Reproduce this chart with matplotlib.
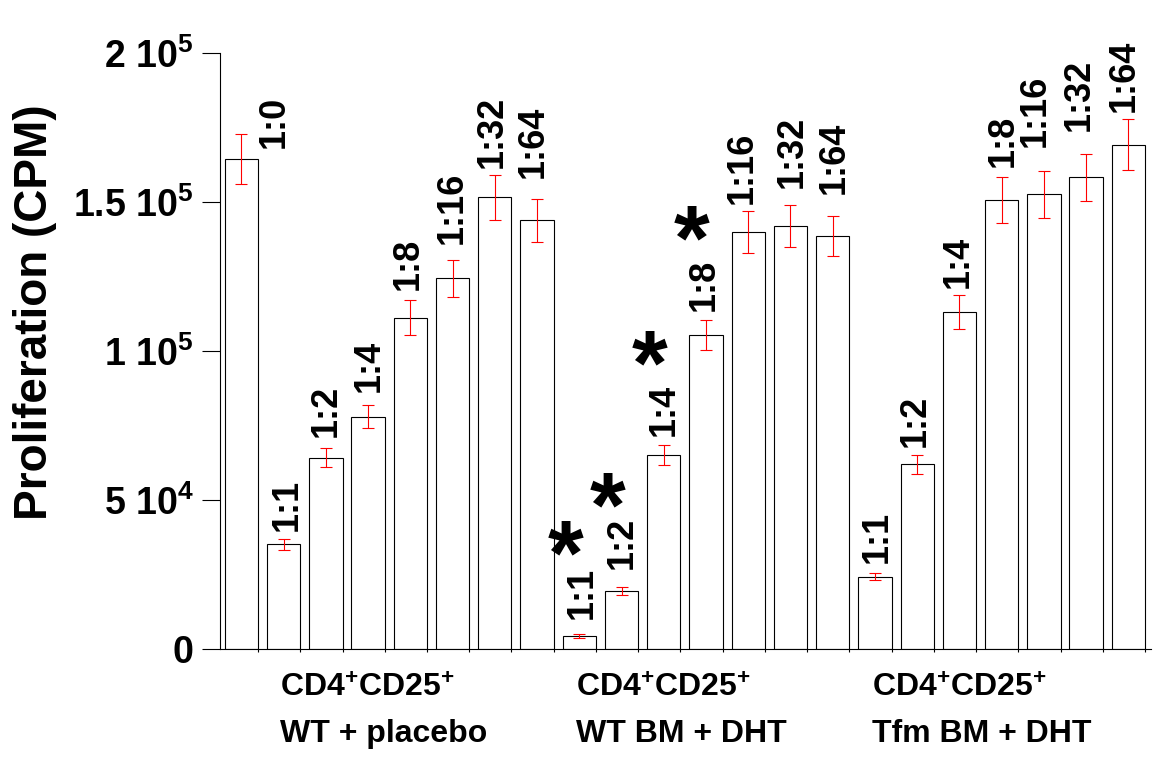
import numpy as np
import matplotlib
matplotlib.use("Agg")
import matplotlib.pyplot as plt

plt.rcParams['font.family'] = ['Liberation Sans', 'DejaVu Sans']
plt.rcParams['font.weight'] = 'bold'
plt.rcParams['mathtext.fontset'] = 'custom'
plt.rcParams['mathtext.rm'] = 'Liberation Sans:bold'
plt.rcParams['mathtext.bf'] = 'Liberation Sans:bold'
plt.rcParams['mathtext.it'] = 'Liberation Sans:bold'
plt.rcParams['mathtext.default'] = 'bf'

# suppressor:responder ratio for every well, three groups side by side
ratios = ['1:0', '1:1', '1:2', '1:4', '1:8', '1:16', '1:32', '1:64',
          '1:1', '1:2', '1:4', '1:8', '1:16', '1:32', '1:64',
          '1:1', '1:2', '1:4', '1:8', '1:16', '1:32', '1:64']
cpm = [164500, 35150, 64200, 78000, 111200, 124400, 151650, 143900,
       4360, 19470, 65130, 105400, 139900, 142000, 138650,
       24270, 62000, 113200, 150700, 152650, 158350, 169300]
sem = [8300, 1900, 3250, 3900, 5900, 6250, 7650, 7350,
       600, 1400, 3400, 5100, 7000, 7100, 6800,
       1270, 3250, 5650, 7750, 7800, 8000, 8550]
significant = [8, 9, 10, 11]

group_cells = ['CD4$^{+}$CD25$^{+}$'] * 3
group_names = ['WT + placebo', 'WT BM + DHT', 'Tfm BM + DHT']
group_x = [1.52, 8.53, 15.54]

yticks = [0, 50000, 100000, 150000, 200000]
yticklabels = ['0', '5 10$^{4}$', '1 10$^{5}$', '1.5 10$^{5}$', '2 10$^{5}$']

# hand placement of the ratio labels (pixels from the top of each error bar)
label_dx = [29, 0, -4, -3, -6, -4, -7, -8,
            -1, -3, -3, -6, -10, -2, -2,
            -2, -6, -5, -2, -13, -11, -8]
label_dy = [-14, 8, 11, 13, 10, 16, 7, 21,
            15, 18, 9, 9, 7, 17, 22,
            10, 8, 7, 10, 24, 23, 7]

fig = plt.figure(figsize=(11.55, 7.57), dpi=100)
ax = fig.add_axes([220 / 1155, 108 / 757, 931 / 1155, 595.7 / 757])

n = len(cpm)
left = np.arange(n) + 0.21
width = 0.79
centers = left + width / 2

ax.bar(left, cpm, width=width, align='edge', color='white',
       edgecolor='black', linewidth=0.8, zorder=2)
ax.errorbar(centers, cpm, yerr=sem, fmt='none', ecolor='red',
            elinewidth=0.8, capsize=4.5, capthick=0.8, zorder=3)

for i in range(n):
    ax.annotate(ratios[i], xy=(centers[i], cpm[i] + sem[i]),
                xytext=(label_dx[i] + 4, label_dy[i]), textcoords='offset pixels',
                rotation=90, ha='center', va='bottom',
                fontsize=26, fontweight='bold')

# significance stars above the WT BM + DHT labels
for i in significant:
    ax.annotate('*', xy=(centers[i], cpm[i] + sem[i]),
                xytext=(-14, 74), textcoords='offset pixels',
                ha='center', va='center', fontsize=66, fontweight='bold')

for x, cells, name in zip(group_x, group_cells, group_names):
    ax.annotate(cells, xy=(x, 0), xycoords=('data', 'axes fraction'),
                xytext=(0, -48), textcoords='offset pixels',
                ha='left', va='baseline', fontsize=23, fontweight='bold')
    ax.annotate(name, xy=(x, 0), xycoords=('data', 'axes fraction'),
                xytext=(0, -93), textcoords='offset pixels',
                ha='left', va='baseline', fontsize=23, fontweight='bold')

ax.set_xlim(0.1, 22.14)
ax.set_ylim(0, 200000)
ax.set_xticks(np.arange(1, n + 1))
ax.set_xticklabels([])
ax.set_yticks(yticks)
ax.set_yticklabels(yticklabels)
ax.tick_params(axis='x', length=2.5, width=0.8, direction='out')
ax.tick_params(axis='y', length=13, width=0.8, direction='out', pad=6,
               labelsize=27)
for lab in ax.get_yticklabels():
    lab.set_fontweight('bold')

for side in ['top', 'right']:
    ax.spines[side].set_visible(False)
for side in ['left', 'bottom']:
    ax.spines[side].set_linewidth(0.8)

fig.text(35 / 1155, 1 - 312 / 757, 'Proliferation (CPM)', rotation=90,
         ha='center', va='center', fontsize=33, fontweight='bold')

fig.savefig('out.png', dpi=100)
